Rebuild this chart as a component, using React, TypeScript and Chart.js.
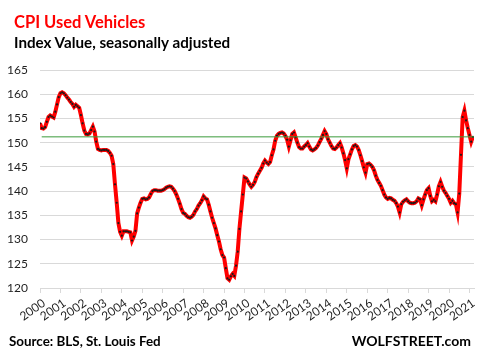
import { useEffect, useRef } from "react";
import { Chart, registerables } from "chart.js";

Chart.register(...registerables);

// Monthly index values (seasonally adjusted), Jan..Dec of each year
const START_YEAR = 2000;
const v2000 = [154.0, 153.0, 152.9, 153.2, 154.3, 155.3, 155.6, 155.4, 155.2, 156.4, 157.9, 159.4];
const v2001 = [160.2, 160.4, 160.2, 159.8, 159.3, 158.9, 158.4, 158.0, 157.4, 157.8, 157.5, 157.2];
const v2002 = [155.7, 154.0, 152.5, 151.8, 151.7, 151.9, 152.6, 153.3, 152.3, 150.2, 148.7, 148.5];
const v2003 = [148.4, 148.5, 148.5, 148.5, 148.3, 147.9, 147.3, 145.6, 141.4, 137.6, 133.4, 131.6];
const v2004 = [130.8, 131.7, 131.7, 131.7, 131.6, 131.5, 129.8, 130.6, 131.8, 135.4, 136.6, 137.6];
const v2005 = [138.4, 138.5, 138.3, 138.4, 138.7, 139.4, 140.0, 140.2, 140.2, 140.1, 140.1, 140.1];
const v2006 = [140.2, 140.4, 140.7, 140.9, 141.0, 140.9, 140.5, 140.0, 139.3, 138.4, 137.4, 136.3];
const v2007 = [135.5, 135.3, 134.9, 134.6, 134.5, 134.7, 135.1, 135.8, 136.3, 137.0, 137.5, 138.1];
const v2008 = [138.9, 138.5, 138.3, 137.2, 135.8, 134.5, 133.4, 132.3, 130.9, 129.6, 128.0, 126.8];
const v2009 = [126.3, 124.1, 122.0, 121.7, 122.4, 122.9, 122.5, 124.6, 127.5, 132.2, 135.8, 139.3];
const v2010 = [142.8, 142.6, 142.0, 141.4, 140.9, 141.3, 141.9, 142.9, 143.6, 144.2, 144.8, 145.7];
const v2011 = [146.3, 145.9, 145.6, 146.0, 147.4, 148.6, 150.4, 151.4, 151.8, 152.0, 152.1, 151.9];
const v2012 = [151.4, 150.6, 149.2, 150.5, 151.8, 152.1, 151.1, 150.0, 149.1, 148.8, 148.8, 149.2];
const v2013 = [149.5, 149.9, 149.2, 148.6, 148.4, 148.6, 148.9, 149.4, 150.1, 150.8, 151.6, 152.4];
const v2014 = [151.8, 150.7, 150.0, 149.3, 148.8, 148.7, 149.0, 149.5, 149.9, 149.0, 147.8, 146.4];
const v2015 = [144.7, 146.6, 147.6, 148.6, 149.3, 149.5, 149.2, 148.5, 147.4, 146.2, 144.9, 143.8];
const v2016 = [145.6, 145.7, 145.4, 145.0, 144.3, 143.2, 142.3, 141.7, 141.1, 140.2, 139.3, 138.7];
const v2017 = [138.4, 138.6, 138.5, 138.2, 138.0, 137.5, 136.8, 135.6, 137.3, 137.8, 138.1, 138.3];
const v2018 = [137.9, 137.6, 137.5, 137.5, 137.6, 137.9, 138.5, 138.3, 137.1, 138.3, 139.3, 140.2];
const v2019 = [140.6, 139.0, 137.9, 138.2, 137.9, 139.3, 141.0, 141.9, 140.9, 140.1, 139.6, 139.0];
const v2020 = [138.4, 137.6, 138.0, 137.5, 137.3, 135.6, 139.5, 147.5, 155.3, 156.6, 154.6, 153.0];
const v2021 = [151.6, 150.2, 151.2];

// Year tick labels on the x axis
const yearLabels = [
  2000, 2001, 2002, 2003, 2004, 2005, 2006, 2007, 2008, 2009, 2010,
  2011, 2012, 2013, 2014, 2015, 2016, 2017, 2018, 2019, 2020, 2021,
];

// Horizontal reference line at the latest value
const referenceLevel = 151.2;
const referenceStart = 2000 + 1 / 12;
const X_MAX = 2021.22;

const Y_MIN = 120;
const Y_MAX = 165;
const Y_STEP = 5;

export default function App() {
  const canvasRef = useRef<HTMLCanvasElement>(null);

  useEffect(() => {
    const all = [
      ...v2000, ...v2001, ...v2002, ...v2003, ...v2004, ...v2005, ...v2006,
      ...v2007, ...v2008, ...v2009, ...v2010, ...v2011, ...v2012, ...v2013,
      ...v2014, ...v2015, ...v2016, ...v2017, ...v2018, ...v2019, ...v2020, ...v2021,
    ];
    const points = all.map((v, i) => ({ x: START_YEAR + i / 12, y: v }));
    const tickFont = { family: "Lato", size: 12 };

    const chart = new Chart(canvasRef.current!, {
      type: "line",
      data: {
        datasets: [
          {
            data: [
              { x: referenceStart, y: referenceLevel },
              { x: X_MAX, y: referenceLevel },
            ],
            borderColor: "#3a9a3a",
            borderWidth: 1,
            pointRadius: 0,
            pointHoverRadius: 0,
            order: 0,
          },
          {
            data: points,
            borderColor: "#ff0000",
            borderWidth: 4,
            pointRadius: 1.1,
            pointHoverRadius: 1.1,
            pointBackgroundColor: "#1a1a1a",
            pointBorderWidth: 0,
            tension: 0,
            order: 1,
          },
        ],
      },
      options: {
        responsive: false,
        animation: false,
        events: [],
        layout: { padding: { top: 70, right: 9, left: 0, bottom: 0 } },
        plugins: {
          legend: { display: false },
          tooltip: { enabled: false },
          title: { display: false },
        },
        scales: {
          x: {
            type: "linear",
            min: START_YEAR,
            max: X_MAX,
            afterFit: (s: any) => {
              s.height = 68;
            },
            afterBuildTicks: (s: any) => {
              s.ticks = yearLabels.map((y) => ({ value: y }));
            },
            ticks: {
              autoSkip: false,
              includeBounds: false,
              minRotation: 35,
              maxRotation: 35,
              padding: 3,
              labelOffset: 4,
              color: "#1f1f1f",
              font: tickFont,
              callback: (v: any) => String(v),
            },
            grid: {
              drawOnChartArea: false,
              drawTicks: true,
              tickLength: 5,
              color: "#d9d9d9",
            },
            border: { display: true, color: "#d9d9d9" },
          },
          y: {
            min: Y_MIN,
            max: Y_MAX,
            afterFit: (s: any) => {
              s.width = 40;
            },
            ticks: {
              stepSize: Y_STEP,
              padding: 12,
              color: "#1f1f1f",
              font: tickFont,
            },
            grid: { color: "#d9d9d9", drawTicks: false },
            border: { display: false },
          },
        },
      },
    });
    return () => chart.destroy();
  }, []);

  const textBase: any = {
    position: "absolute",
    fontFamily: "Lato",
    fontWeight: 700,
    whiteSpace: "nowrap",
    margin: 0,
  };

  return (
    <div
      style={{
        position: "fixed",
        left: 0,
        top: 0,
        width: 483,
        height: 356,
        background: "#ffffff",
        overflow: "hidden",
      }}
    >
      <canvas
        ref={canvasRef}
        width={483}
        height={356}
        style={{ position: "absolute", left: 0, top: 0, width: 483, height: 356 }}
      />
      <div style={{ ...textBase, left: 14, top: 13, fontSize: 16.5, lineHeight: "19.8px", color: "#ff0000" }}>
        CPI Used Vehicles
      </div>
      <div style={{ ...textBase, left: 14, top: 33, fontSize: 15.2, lineHeight: "18.2px", color: "#000000" }}>
        Index Value, seasonally adjusted
      </div>
      <div style={{ ...textBase, left: 9, top: 333, fontSize: 13.4, lineHeight: "16px", color: "#000000" }}>
        Source: BLS, St. Louis Fed
      </div>
      <div style={{ ...textBase, right: 12, top: 333, fontSize: 14, lineHeight: "16.8px", color: "#000000" }}>
        WOLFSTREET.com
      </div>
    </div>
  );
}
